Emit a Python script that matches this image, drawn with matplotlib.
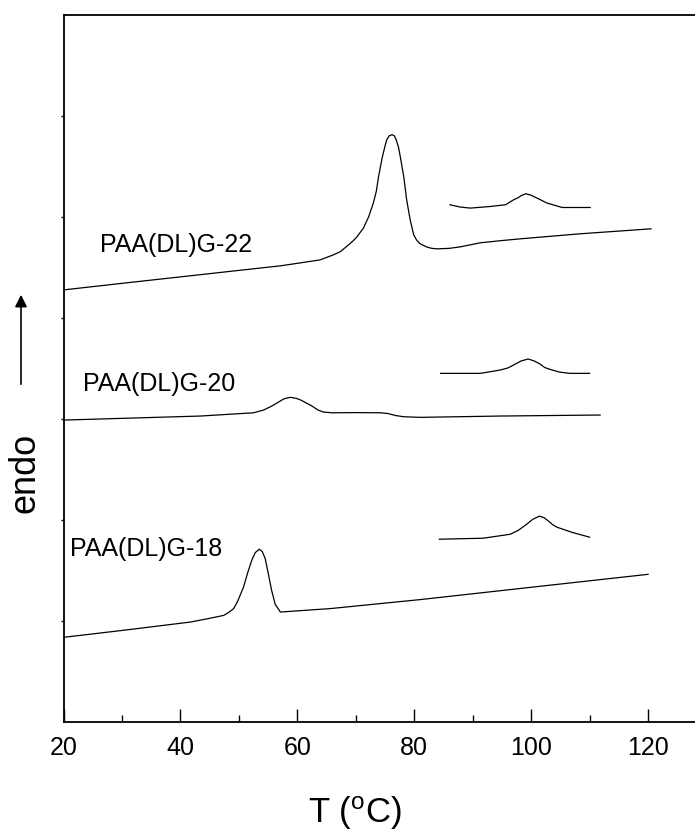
import matplotlib
matplotlib.use("Agg")
import matplotlib.pyplot as plt
from matplotlib.ticker import MultipleLocator

plt.rcParams['font.family'] = ['Liberation Sans', 'DejaVu Sans']

# --- Data (y in arbitrary heat-flow units) ---
t22 = [20, 30, 40, 50, 57.1, 60.0, 63.9, 66.0, 67.3, 68.5, 69.5, 70.2, 71.3, 72.2, 73.0,
       73.5, 73.9, 74.5, 75.0, 75.3, 75.7, 76.2, 76.6, 76.9, 77.3, 77.6, 78.2, 78.7,
       79.3, 79.9, 80.4, 81.0, 82.2, 83.0, 83.9, 86.0, 87.9, 91.3, 95.0, 98.1, 108.4, 120.5]
y22 = [4.277, 4.342, 4.406, 4.470, 4.515, 4.540, 4.574, 4.620, 4.653, 4.710, 4.760, 4.802,
       4.888, 5.000, 5.136, 5.250, 5.399, 5.581, 5.700, 5.762, 5.800, 5.812, 5.800, 5.762,
       5.690, 5.597, 5.399, 5.168, 4.970, 4.822, 4.770, 4.733, 4.700, 4.688, 4.683, 4.688,
       4.703, 4.743, 4.765, 4.782, 4.832, 4.881]
t22_in = [86.1, 87.9, 89.6, 93.0, 95.6, 97.0, 97.8, 98.3, 99.1, 99.9, 101.0, 102.7, 105.3, 110.1]
y22_in = [5.119, 5.096, 5.086, 5.102, 5.119, 5.168, 5.190, 5.210, 5.228, 5.215, 5.185,
          5.136, 5.092, 5.092]

t20 = [20, 43.4, 52.5, 54.2, 55.5, 56.5, 57.7, 58.8, 59.8, 60.6, 61.5, 62.5, 63.5, 64.5,
       66.0, 70.0, 74.2, 75.5, 76.8, 78.2, 81.0, 94.7, 111.8]
y20 = [2.990, 3.030, 3.062, 3.089, 3.125, 3.158, 3.200, 3.215, 3.205, 3.188, 3.160, 3.129,
       3.090, 3.069, 3.062, 3.064, 3.062, 3.055, 3.035, 3.023, 3.017, 3.030, 3.040]
t20_in = [84.5, 91.3, 94.7, 96.0, 97.0, 98.3, 99.5, 100.5, 101.5, 102.3, 103.2, 104.8, 106.6, 110.0]
y20_in = [3.452, 3.452, 3.485, 3.505, 3.535, 3.575, 3.594, 3.575, 3.545, 3.510, 3.492,
          3.465, 3.452, 3.452]

t18 = [20, 30, 41.7, 45.0, 47.4, 48.3, 49.1, 49.8, 50.3, 50.8, 51.5, 52.2, 52.8, 53.5,
       54.0, 54.5, 55.0, 55.6, 56.2, 57.1, 58.8, 65.6, 81.0, 100.0, 120.0]
y18 = [0.842, 0.910, 0.993, 1.030, 1.059, 1.090, 1.126, 1.200, 1.270, 1.340, 1.480, 1.604,
       1.680, 1.713, 1.690, 1.621, 1.480, 1.307, 1.170, 1.092, 1.099, 1.126, 1.215, 1.337, 1.465]
t18_in = [84.3, 91.8, 96.4, 97.8, 99.0, 100.3, 101.4, 102.2, 103.0, 103.7, 104.4, 107.0, 110.0]
y18_in = [1.812, 1.822, 1.861, 1.900, 1.950, 2.010, 2.040, 2.025, 1.990, 1.955, 1.931,
          1.880, 1.832]

labels = ["PAA(DL)G-22", "PAA(DL)G-20", "PAA(DL)G-18"]
label_pos = [(26.3, 4.72), (23.4, 3.35), (21.1, 1.72)]
xticks = [20, 40, 60, 80, 100, 120]

fig = plt.figure(figsize=(6.95, 8.34), dpi=100)
ax = fig.add_axes([0.0914, 0.1337, 0.9252, 0.8489])

lw = 0.9
for t, y in [(t22, y22), (t22_in, y22_in), (t20, y20), (t20_in, y20_in),
             (t18, y18), (t18_in, y18_in)]:
    ax.plot(t, y, color='black', lw=lw, solid_joinstyle='round')

for lab, (x, y) in zip(labels, label_pos):
    ax.text(x, y, lab, fontsize=18, ha='left', va='center')

ax.set_xlim(20, 130)
ax.set_ylim(0, 7)
ax.set_xticks(xticks)
ax.xaxis.set_minor_locator(MultipleLocator(10))
ax.set_yticks([1, 2, 3, 4, 5, 6])
ax.set_yticklabels([])
ax.tick_params(axis='x', which='major', direction='in', length=9.5, width=1.0,
               labelsize=18, pad=10)
ax.tick_params(axis='x', which='minor', direction='in', length=5, width=1.0)
ax.tick_params(axis='y', which='major', direction='out', length=2.5, width=1.0)
ax.spines['right'].set_visible(False)
for s in ['left', 'bottom', 'top']:
    ax.spines[s].set_linewidth(1.3)

fig.text(355 / 695, 1 - 813 / 834, "T ($\\mathregular{^o}$C)", fontsize=25,
         ha='center', va='center')

fig.text(25 / 695, 1 - 473 / 834, "endo", rotation=90, fontsize=26,
         ha='center', va='center')
fig.patches.append(matplotlib.patches.FancyArrowPatch(
    (21 / 695, 1 - 387 / 834), (21 / 695, 1 - 292 / 834),
    transform=fig.transFigure, arrowstyle='-|>', mutation_scale=18,
    color='black', lw=1.2))

fig.savefig("out.png", dpi=100)
